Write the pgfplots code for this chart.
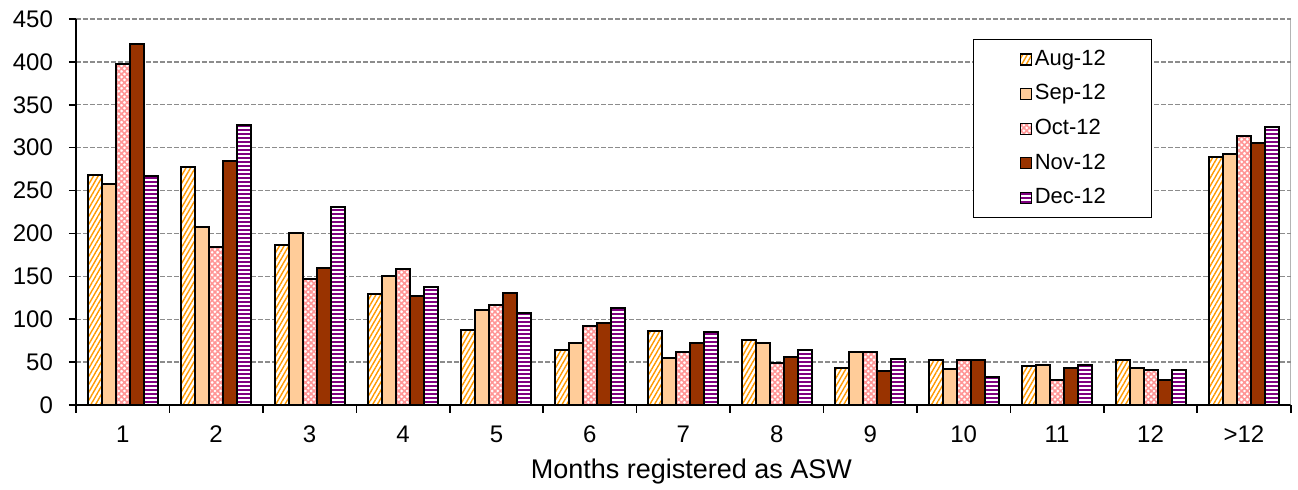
\documentclass[border=0pt]{standalone}
\usepackage{pgfplots}
\pgfplotsset{compat=1.18}
\usepackage{pgfplotstable}
\usepackage{fontspec}
\setmainfont{Liberation Sans}
\usetikzlibrary{patterns.meta}

\definecolor{augc}{RGB}{255,153,0}
\definecolor{sepc}{RGB}{255,204,153}
\definecolor{octc}{RGB}{255,150,150}
\definecolor{novc}{RGB}{153,51,0}
\definecolor{decc}{RGB}{128,0,128}
\definecolor{gridc}{RGB}{140,140,140}

% months registered (0..11 -> 1..12, 12 -> >12)
\pgfplotstableread{
cat aug sep oct nov dec
0  268 258 397 421 267
1  277 207 184 284 326
2  187 201 147 160 231
3  129 150 158 127 138
4  88  111 117 131 107
5  64  72  92  96  113
6  86  55  62  72  85
7  76  72  49  56  64
8  43  62  62  40  54
9  53  42  52  53  33
10 45  47  29  43  47
11 53  43  41  29  41
12 289 293 314 305 324
}\datatable

\pgfplotsset{
  sq/.style={draw=black, line width=1pt,
    legend image code/.code={\draw[##1, line width=0.6pt] (0pt,-2.75pt) rectangle (5.5pt,2.75pt);}},
}

\begin{document}
\begin{tikzpicture}
\begin{axis}[
  scale only axis,
  width=607.35pt, height=193pt,
  ybar=0pt, bar width=7pt,
  xmin=-0.5, xmax=12.5, ymin=0, ymax=450,
  xtick={0,...,12},
  xticklabels={\textnormal{1},\textnormal{2},\textnormal{3},\textnormal{4},\textnormal{5},\textnormal{6},\textnormal{7},\textnormal{8},\textnormal{9},\textnormal{10},\textnormal{11},\textnormal{12},\textnormal{>12}},
  minor xtick={-0.5,0.5,...,12.5},
  ytick={0,50,...,450},
  /pgf/number format/assume math mode=true,
  ymajorgrids,
  grid style={gridc, dash pattern=on 2.5pt off 1pt, line width=0.7pt},
  axis x line*=bottom, axis y line*=left,
  axis line style={black, line width=0.8pt},
  tick align=outside,
  major tick length=3.5pt, minor tick length=4pt,
  major x tick style={draw=none},
  minor x tick style={black, line width=0.8pt},
  ytick style={black, line width=0.8pt},
  tick label style={font=\fontsize{12}{14}\selectfont},
  yticklabel style={xshift=-4.5pt},
  xticklabel style={yshift=-3.5pt},
  xlabel={Months registered as ASW},
  xlabel style={font=\fontsize{13.5}{16}\selectfont, at={(axis description cs:0.5,0)}, anchor=north, yshift=-23.5pt, xshift=4pt},
  legend style={at={(rel axis cs:0.7385,0.948)}, anchor=north west,
    draw=black, line width=0.6pt, font=\fontsize{11}{13}\selectfont,
    inner xsep=23pt, inner ysep=5pt, row sep=7.5pt,
    nodes={inner sep=0pt, text height=7.8pt, text depth=2pt},
    /tikz/every odd column/.append style={column sep=1.5pt}},
  legend cell align=left,
]
\addplot[sq, fill=white, postaction={pattern={Lines[angle=60,distance=2pt,line width=0.7pt]}, pattern color=augc}] table[x=cat, y=aug] {\datatable};
\addplot[sq, fill=sepc] table[x=cat, y=sep] {\datatable};
\addplot[sq, fill=white, postaction={pattern={Hatch[angle=45,distance=2pt,line width=0.8pt]}, pattern color=octc}] table[x=cat, y=oct] {\datatable};
\addplot[sq, fill=novc] table[x=cat, y=nov] {\datatable};
\addplot[sq, fill=white, postaction={pattern={Lines[angle=0,distance=2pt,line width=1.1pt]}, pattern color=decc}] table[x=cat, y=dec] {\datatable};
\legend{Aug-12,Sep-12,Oct-12,Nov-12,Dec-12}
\draw[gridc, line width=0.7pt] (rel axis cs:1,0) -- (rel axis cs:1,1);
\coordinate (axSW) at (rel axis cs:0,0);
\end{axis}
\pgfresetboundingbox
\path (axSW) ++(-38pt,-42.5pt) rectangle ++(649pt,245pt);
\end{tikzpicture}
\end{document}
